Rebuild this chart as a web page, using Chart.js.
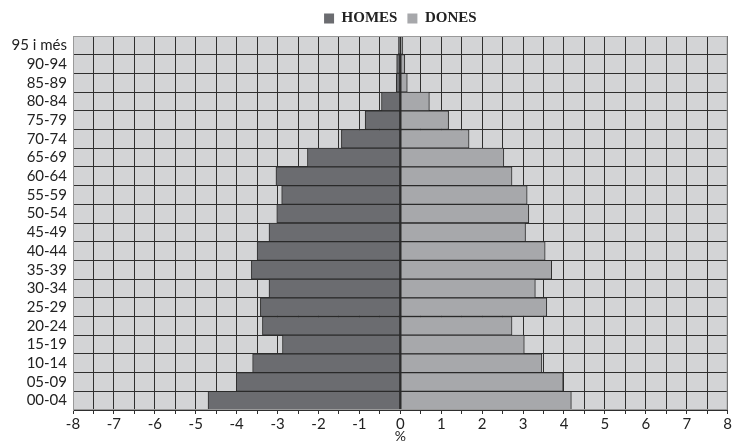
<!DOCTYPE html>
<html>
<head>
<meta charset="utf-8">
<script src="https://cdn.jsdelivr.net/npm/chart.js@4/dist/chart.umd.min.js"></script>
<style>
  html, body { margin: 0; padding: 0; background: #fff; }
  #wrap { width: 733px; height: 445px; }
</style>
</head>
<body>
<div id="wrap"><canvas id="piramide"></canvas></div>
<script>
// grups d'edat, de dalt a baix
const edats = ['95 i més', '90-94', '85-89', '80-84', '75-79', '70-74', '65-69', '60-64',
  '55-59', '50-54', '45-49', '40-44', '35-39', '30-34', '25-29', '20-24',
  '15-19', '10-14', '05-09', '00-04']

// % homes (negatiu, costat esquerre)
const homes = [-0.05, -0.09, -0.10, -0.46, -0.86, -1.44, -2.27, -3.04,
  -2.90, -3.02, -3.21, -3.50, -3.64, -3.21, -3.42, -3.37,
  -2.88, -3.61, -4.01, -4.70]

// % dones
const dones = [0.06, 0.11, 0.17, 0.71, 1.18, 1.68, 2.53, 2.73,
  3.10, 3.14, 3.06, 3.54, 3.70, 3.30, 3.58, 2.73,
  3.03, 3.46, 3.98, 4.18]

const xMin = -8
const xMax = 8

// fons gris de l'àrea del gràfic + vora
const fonsArea = {
  id: 'fonsArea',
  beforeDraw(chart) {
    const { ctx, chartArea: a } = chart
    ctx.save()
    ctx.fillStyle = '#d3d4d6'
    ctx.fillRect(a.left, a.top, a.right - a.left, a.bottom - a.top)
    ctx.restore()
  },
  afterDraw(chart) {
    const { ctx, chartArea: a } = chart
    ctx.save()
    ctx.strokeStyle = '#9a9a9a'
    ctx.lineWidth = 1
    ctx.strokeRect(a.left + 0.5, a.top + 0.5, a.right - a.left - 1, a.bottom - a.top - 1)
    ctx.restore()
  }
}

new Chart(document.getElementById('piramide'), {
  type: 'bar',
  data: {
    labels: edats,
    datasets: [{
      label: 'HOMES',
      data: homes,
      backgroundColor: '#6b6c70',
      borderColor: '#2a2a2a',
      borderWidth: 1,
      borderSkipped: false,
      barPercentage: 1,
      categoryPercentage: 1
    }, {
      label: 'DONES',
      data: dones,
      backgroundColor: '#a7a8ab',
      borderColor: '#2a2a2a',
      borderWidth: 1,
      borderSkipped: false,
      barPercentage: 1,
      categoryPercentage: 1
    }]
  },
  options: {
    indexAxis: 'y',
    responsive: true,
    maintainAspectRatio: false,
    animation: false,
    layout: { padding: { left: 0, right: 3, top: 1, bottom: 0 } },
    plugins: {
      tooltip: { enabled: false },
      legend: {
        position: 'top',
        fullSize: false,
        labels: {
          color: '#222',
          font: { family: '"Liberation Serif", "Times New Roman", serif', size: 15, weight: 'bold' },
          boxWidth: 10,
          boxHeight: 10,
          padding: 10,
          generateLabels(chart) {
            return Chart.defaults.plugins.legend.labels.generateLabels(chart).map(l => {
              l.lineWidth = 0
              return l
            })
          }
        }
      }
    },
    scales: {
      x: {
        stacked: true,
        min: xMin,
        max: xMax,
        afterFit(scale) { scale.height = 35 },
        ticks: {
          stepSize: 0.5,
          autoSkip: false,
          maxRotation: 0,
          padding: 1,
          color: '#222',
          font: { family: 'Lato, "Open Sans", sans-serif', size: 15 },
          callback: v => Number.isInteger(v) ? v : ''
        },
        grid: {
          color: '#2e2e2e',
          lineWidth: 1,
          tickLength: 4,
          tickColor: '#2e2e2e'
        },
        border: { color: '#2e2e2e' },
        title: {
          display: true,
          text: '%',
          color: '#222',
          padding: 0,
          font: { family: 'Lato, "Open Sans", sans-serif', size: 14 }
        }
      },
      y: {
        stacked: true,
        afterFit(scale) { scale.width = 73 },
        ticks: {
          autoSkip: false,
          color: '#222',
          padding: 6,
          font: { family: 'Lato, "Open Sans", sans-serif', size: 15 }
        },
        grid: {
          color: '#2e2e2e',
          lineWidth: 1,
          drawTicks: false
        },
        border: { color: '#9a9a9a' }
      }
    }
  },
  plugins: [fonsArea]
})
</script>
</body>
</html>
